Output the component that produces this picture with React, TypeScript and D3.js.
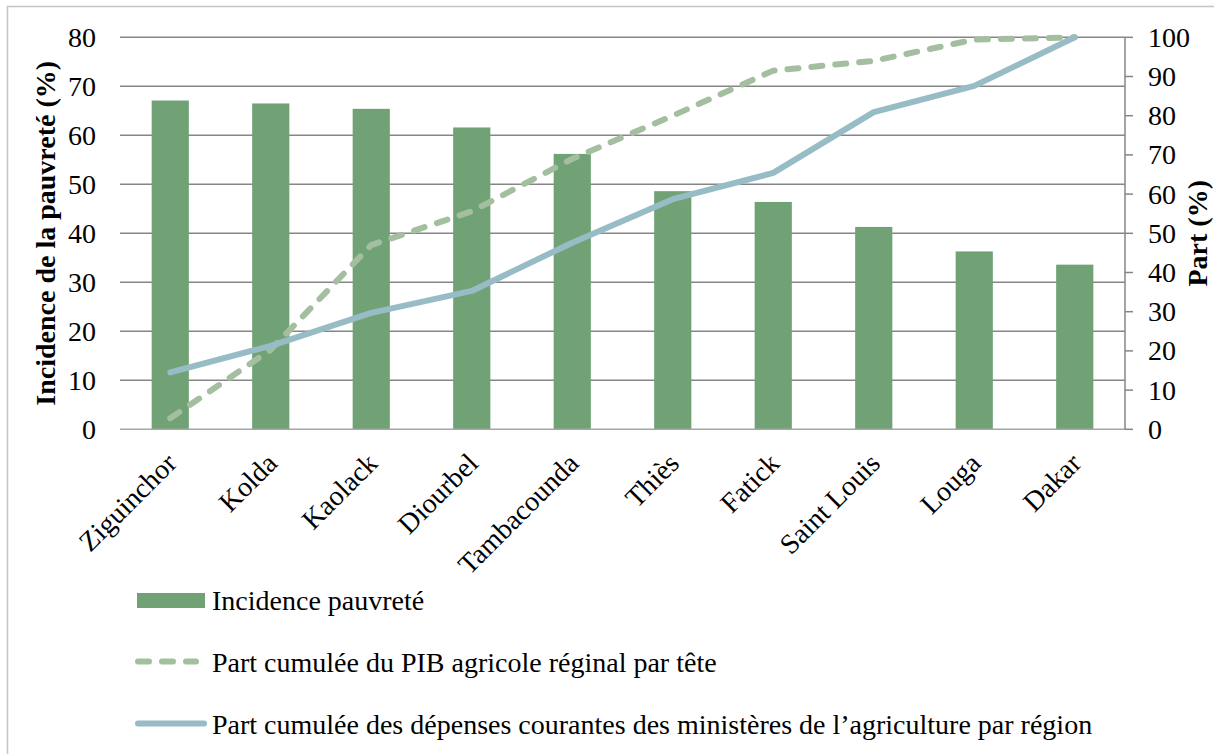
import React, { useEffect, useRef } from 'react';
import * as d3 from 'd3';

const regions = ['Ziguinchor', 'Kolda', 'Kaolack', 'Diourbel', 'Tambacounda', 'Thiès', 'Fatick', 'Saint Louis', 'Louga', 'Dakar'];
const incidence = [67.1, 66.5, 65.4, 61.6, 56.2, 48.6, 46.4, 41.3, 36.3, 33.6];
const pibCumule = [2.8, 20.3, 47.0, 55.6, 69.0, 80.0, 91.5, 94.0, 99.4, 100];
const depensesCumule = [14.5, 21.3, 29.7, 35.3, 47.6, 58.7, 65.4, 80.9, 87.6, 100];
const leftTicks = [0, 10, 20, 30, 40, 50, 60, 70, 80];
const rightTicks = [0, 10, 20, 30, 40, 50, 60, 70, 80, 90, 100];

const legendLabels = [
  'Incidence pauvreté',
  'Part cumulée du PIB agricole réginal par tête',
  'Part cumulée des dépenses courantes des ministères de l’agriculture par région',
];

const BAR = '#70a276';
const DASH = '#a3bf9f';
const BLUE = '#97bcc6';
const GRID = '#868686';
const FONT = '"Liberation Serif", "Times New Roman", serif';

const App: React.FC = () => {
  const svgRef = useRef<SVGSVGElement | null>(null);

  useEffect(() => {
    const svg = d3.select(svgRef.current);
    svg.selectAll('*').remove();

    const width = 1214;
    const height = 754;
    const plot = { left: 120, right: 1125, top: 37.3, bottom: 429.3 };

    // outer frame
    svg
      .append('rect')
      .attr('x', 7.5)
      .attr('y', 6.5)
      .attr('width', width)
      .attr('height', height)
      .attr('fill', '#fff')
      .attr('stroke', '#c4c4c4')
      .attr('stroke-width', 1.5);

    const x = d3.scaleBand().domain(regions).range([plot.left, plot.right]).padding(0);
    const yLeft = d3.scaleLinear().domain([0, 80]).range([plot.bottom, plot.top]);
    const yRight = d3.scaleLinear().domain([0, 100]).range([plot.bottom, plot.top]);
    const cx = (r: string) => (x(r) as number) + x.bandwidth() / 2;

    // gridlines
    svg
      .append('g')
      .selectAll('line')
      .data(leftTicks.filter((t) => t > 0))
      .join('line')
      .attr('x1', plot.left)
      .attr('x2', plot.right)
      .attr('y1', (d) => yLeft(d))
      .attr('y2', (d) => yLeft(d))
      .attr('stroke', GRID)
      .attr('stroke-width', 1.5);

    // left tick labels
    svg
      .append('g')
      .selectAll('text')
      .data(leftTicks)
      .join('text')
      .attr('x', 96)
      .attr('y', (d) => yLeft(d))
      .attr('dy', '0.34em')
      .attr('text-anchor', 'end')
      .attr('font-family', FONT)
      .attr('font-size', 28)
      .text((d) => d);

    // bars
    const barW = x.bandwidth() * 0.37;
    svg
      .append('g')
      .selectAll('rect')
      .data(regions)
      .join('rect')
      .attr('x', (d) => cx(d) - barW / 2)
      .attr('y', (d, i) => yLeft(incidence[i]))
      .attr('width', barW)
      .attr('height', (d, i) => plot.bottom - yLeft(incidence[i]))
      .attr('fill', BAR);

    // baseline
    svg
      .append('line')
      .attr('x1', plot.left)
      .attr('x2', plot.right)
      .attr('y1', plot.bottom)
      .attr('y2', plot.bottom)
      .attr('stroke', '#a6a6a6')
      .attr('stroke-width', 1.5);

    // right axis
    svg
      .append('line')
      .attr('x1', plot.right)
      .attr('x2', plot.right)
      .attr('y1', plot.top)
      .attr('y2', plot.bottom)
      .attr('stroke', GRID)
      .attr('stroke-width', 1.5);
    svg
      .append('g')
      .selectAll('line')
      .data(rightTicks)
      .join('line')
      .attr('x1', plot.right)
      .attr('x2', plot.right + 8)
      .attr('y1', (d) => yRight(d))
      .attr('y2', (d) => yRight(d))
      .attr('stroke', GRID)
      .attr('stroke-width', 1.5);
    svg
      .append('g')
      .selectAll('text')
      .data(rightTicks)
      .join('text')
      .attr('x', 1148)
      .attr('y', (d) => yRight(d))
      .attr('dy', '0.34em')
      .attr('font-family', FONT)
      .attr('font-size', 28)
      .text((d) => d);

    // lines
    const line = d3
      .line<number>()
      .x((d, i) => cx(regions[i]))
      .y((d) => yRight(d));

    svg
      .append('path')
      .attr('d', line(pibCumule))
      .attr('fill', 'none')
      .attr('stroke', DASH)
      .attr('stroke-width', 6)
      .attr('stroke-linecap', 'round')
      .attr('stroke-linejoin', 'round')
      .attr('stroke-dasharray', '11 13');

    svg
      .append('path')
      .attr('d', line(depensesCumule))
      .attr('fill', 'none')
      .attr('stroke', BLUE)
      .attr('stroke-width', 6)
      .attr('stroke-linecap', 'round')
      .attr('stroke-linejoin', 'round');

    // category labels
    svg
      .append('g')
      .selectAll('text')
      .data(regions)
      .join('text')
      .attr('transform', (d) => `translate(${cx(d) + 8},${465}) rotate(-45)`)
      .attr('text-anchor', 'end')
      .attr('font-family', FONT)
      .attr('font-size', 28)
      .text((d) => d);

    // axis titles
    svg
      .append('text')
      .attr('transform', `translate(55,${(plot.top + plot.bottom) / 2}) rotate(-90)`)
      .attr('text-anchor', 'middle')
      .attr('font-family', FONT)
      .attr('font-weight', 'bold')
      .attr('font-size', 28)
      .text('Incidence de la pauvreté (%)');

    svg
      .append('text')
      .attr('transform', `translate(1207,${(plot.top + plot.bottom) / 2}) rotate(-90)`)
      .attr('text-anchor', 'middle')
      .attr('font-family', FONT)
      .attr('font-weight', 'bold')
      .attr('font-size', 28)
      .text('Part (%)');

    // legend
    const lg = svg.append('g');
    lg.append('rect').attr('x', 137).attr('y', 593).attr('width', 68).attr('height', 15).attr('fill', BAR);
    lg.append('line')
      .attr('x1', 138)
      .attr('x2', 196)
      .attr('y1', 661.5)
      .attr('y2', 661.5)
      .attr('stroke', DASH)
      .attr('stroke-width', 6)
      .attr('stroke-linecap', 'round')
      .attr('stroke-dasharray', '11 13');
    lg.append('line')
      .attr('x1', 138)
      .attr('x2', 204)
      .attr('y1', 723.5)
      .attr('y2', 723.5)
      .attr('stroke', BLUE)
      .attr('stroke-width', 6)
      .attr('stroke-linecap', 'round');
    lg.selectAll('text.lbl')
      .data(legendLabels)
      .join('text')
      .attr('class', 'lbl')
      .attr('x', 212)
      .attr('y', (d, i) => 610 + i * 62)
      .attr('font-family', FONT)
      .attr('font-size', 28)
      .text((d) => d);
  }, []);

  return (
    <svg
      ref={svgRef}
      width={1214}
      height={754}
      style={{ position: 'absolute', left: 0, top: 0, background: '#fff' }}
    />
  );
};

export default App;
